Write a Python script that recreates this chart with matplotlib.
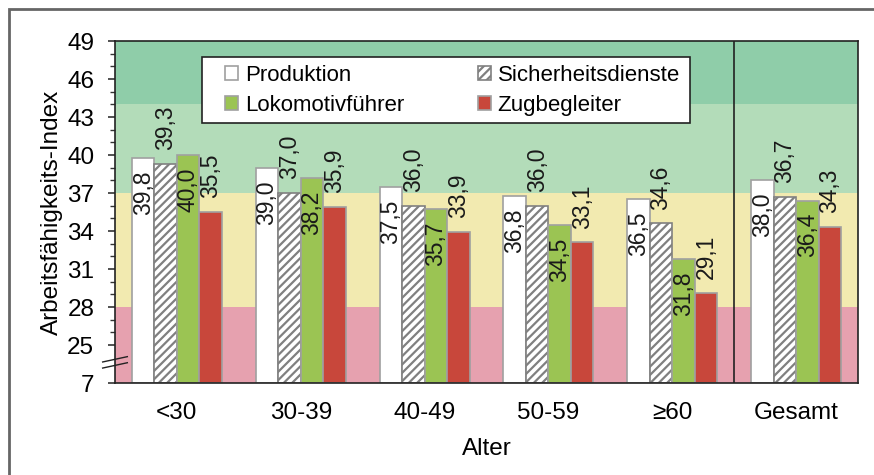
import matplotlib.pyplot as plt
from matplotlib.patches import Rectangle
from matplotlib.lines import Line2D

plt.rcParams['font.family'] = ['Liberation Sans', 'DejaVu Sans']
plt.rcParams['hatch.linewidth'] = 1.6

groups = ['<30', '30-39', '40-49', '50-59', '≥60', 'Gesamt']
series = ['Produktion', 'Sicherheitsdienste', 'Lokomotivführer', 'Zugbegleiter']
produktion = [39.8, 39.0, 37.5, 36.8, 36.5, 38.0]
sicherheit = [39.3, 37.0, 36.0, 36.0, 34.6, 36.7]
lokfuehrer = [40.0, 38.2, 35.7, 34.5, 31.8, 36.4]
zugbegleiter = [35.5, 35.9, 33.9, 33.1, 29.1, 34.3]
ytick_vals = [7, 25, 28, 31, 34, 37, 40, 43, 46, 49]

# broken axis: value 7 is drawn where 22 would be
base = 22
def ymap(v):
    return base if v == 7 else v

fig = plt.figure(figsize=(8.74, 4.75), dpi=100)
ax = fig.add_axes([115/874, 1 - 383/475, (858-115)/874, (383-41)/475])

# background zones
ax.axhspan(base, 28, color='#e6a1af', zorder=0, lw=0)
ax.axhspan(28, 37, color='#f2eab0', zorder=0, lw=0)
ax.axhspan(37, 44, color='#b3dcb9', zorder=0, lw=0)
ax.axhspan(44, 49, color='#8fcda9', zorder=0, lw=0)

w = 0.182
styles = [
    dict(color='white', hatch=None, inside=True),
    dict(color='white', hatch='////', inside=False),
    dict(color='#9bc453', hatch=None, inside=True),
    dict(color='#c8473b', hatch=None, inside=False),
]
data = [produktion, sicherheit, lokfuehrer, zugbegleiter]
x = list(range(len(groups)))
handles = []
for i, (vals, st, name) in enumerate(zip(data, styles, series)):
    xs = [xi + (i - 1.5) * w for xi in x]
    edge = '#808080' if st['hatch'] else '#a0a0a0'
    bars = ax.bar(xs, [v - base for v in vals], w, bottom=base, color=st['color'],
                  edgecolor=edge, linewidth=1.2, hatch=st['hatch'], label=name, zorder=2)
    handles.append(bars)
    for xx, v in zip(xs, vals):
        txt = f'{v:.1f}'.replace('.', ',')
        if st['inside']:
            ax.annotate(txt, (xx, v), xytext=(0, -9), textcoords='offset points',
                        rotation=90, ha='center', va='top', fontsize=16.5, color='#1a1a1a', zorder=3)
        else:
            ax.annotate(txt, (xx, v), xytext=(0, 10), textcoords='offset points',
                        rotation=90, ha='center', va='bottom', fontsize=16.5, color='#1a1a1a', zorder=3)

ax.axvline(4.5, color='#222222', lw=1.2, zorder=3)

ax.set_xlim(-0.5, 5.5)
ax.set_ylim(base, 49)
ax.set_yticks([ymap(v) for v in ytick_vals])
ax.set_yticklabels([str(v) for v in ytick_vals])
ax.set_yticks(list(range(25, 50)), minor=True)
ax.set_xticks(x)
ax.set_xticklabels(groups)
ax.tick_params(axis='y', which='major', length=5, width=1.2, pad=10, labelsize=17.5, color='#333333')
ax.tick_params(axis='y', which='minor', length=3.5, width=1.0, color='#333333')
ax.tick_params(axis='x', length=0, pad=14, labelsize=17.5)
for s in ax.spines.values():
    s.set_color('#222222')
    s.set_linewidth(1.2)

ax.set_xlabel('Alter', fontsize=17.5, labelpad=10)
ax.set_ylabel('Arbeitsfähigkeits-Index', fontsize=17.5, labelpad=3)

# axis break marks
for y0, y1 in ((23.66, 24.08), (23.18, 23.6)):
    ax.add_line(Line2D([-0.0166, 0.0166], [y0, y1], color='#222222', lw=1.0,
                       clip_on=False, zorder=5, transform=ax.get_yaxis_transform()))

# legend box drawn separately for exact padding
ax.add_patch(Rectangle(((202-115)/743, (383-123)/342), 488/743, 66/342, transform=ax.transAxes,
                       facecolor='white', edgecolor='#222222', lw=1.2, zorder=6))
order = [0, 2, 1, 3]
leg = ax.legend([handles[k] for k in order], [series[k] for k in order], ncol=2,
                loc='upper left', bbox_to_anchor=((225-115)/743, (383-65)/342),
                fontsize=16, frameon=False, handlelength=0.6, handleheight=0.6,
                handletextpad=0.3, columnspacing=3.3, borderpad=0, labelspacing=0.4,
                borderaxespad=0)
leg.set_zorder(7)

# outer frame
fig.add_artist(Rectangle((9/874, -0.1), 1.2, 1.1 - 9/475, fill=False,
                         edgecolor='#666666', lw=2, transform=fig.transFigure))

fig.savefig('out.png', dpi=100)
